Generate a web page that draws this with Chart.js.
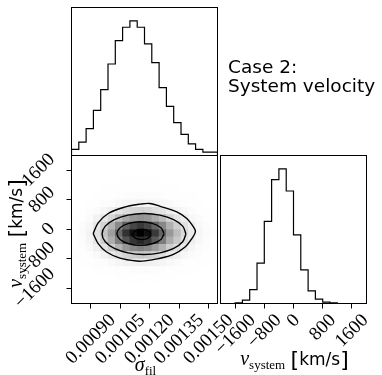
<!DOCTYPE html>
<html><head><meta charset="utf-8">
<script src="https://cdn.jsdelivr.net/npm/chart.js@4.4.1/dist/chart.umd.min.js"></script>
<style>
html,body{margin:0;padding:0;background:#fff;}
#wrap{position:relative;width:382px;height:375px;overflow:hidden;background:#fff}
#wrap canvas{position:absolute;left:0;top:0}
</style></head><body>
<div id="wrap">
<canvas id="topHist" width="382" height="375"></canvas>
<canvas id="joint" width="382" height="375"></canvas>
<canvas id="rightHist" width="382" height="375"></canvas>
</div>
<script>
// ---------- data ----------
const sigmaEdges = [0.0008013, 0.0008385, 0.0008758, 0.0009130, 0.0009502, 0.0009875, 0.0010247, 0.0010619, 0.0010991, 0.0011364, 0.0011736, 0.0012108, 0.0012481, 0.0012853, 0.0013225, 0.0013598, 0.0013970, 0.0014342, 0.0014714, 0.0015087, 0.0015459];
const sigmaCounts = [20, 54, 120, 240, 403, 588, 816, 1024, 1144, 1200, 1144, 996, 828, 606, 439, 293, 188, 104, 54, 30];
const vEdges = [-2009, -1808, -1608, -1407, -1207, -1006, -806, -605, -405, -204, -4, 196, 397, 597, 798, 998, 1199, 1399, 1600, 1800, 2001];
const vCounts = [0, 0, 0, 8, 40, 166, 480, 976, 1472, 1600, 1338, 816, 400, 150, 51, 16, 8, 0, 0, 0];

const sigmaTicks = [0.0009, 0.00105, 0.0012, 0.00135, 0.0015];
const sigmaTickLabels = ['0.00090', '0.00105', '0.00120', '0.00135', '0.00150'];
const vTicks = [-1600, -800, 0, 800, 1600];
const vTickLabels = ['\u22121600', '\u2212800', '0', '800', '1600'];

// 2D histogram, relative density (0-100); rows from top (highest v) to bottom
const densityGrid = [
  [0,0,0,0,0,0,0,0,0,0,0,0,0,0,0,0,0,0,0,0],
  [0,0,0,0,0,0,0,0,0,0,0,0,0,0,0,0,0,0,0,0],
  [0,0,0,0,0,0,0,0,0,0,0,0,0,0,0,0,0,0,0,0],
  [0,0,0,0,0,0,0,1,1,1,1,1,0,0,0,0,0,0,0,0],
  [0,0,0,0,1,1,1,1,1,2,1,1,1,1,1,0,0,0,0,0],
  [0,0,0,1,2,2,3,4,4,5,4,4,3,2,2,1,1,0,0,0],
  [0,0,1,2,4,5,7,9,10,11,10,9,8,6,4,3,2,1,0,0],
  [0,1,3,5,9,13,18,23,26,27,26,22,19,14,10,7,4,2,1,1],
  [1,2,5,11,18,26,36,45,51,53,51,44,37,27,19,13,8,5,2,1],
  [1,4,8,17,28,41,56,71,79,83,79,69,57,42,30,20,13,7,4,2],
  [2,5,10,20,34,49,68,85,95,100,95,83,69,51,37,24,16,9,5,3],
  [1,4,9,18,30,43,60,75,84,88,84,73,61,44,32,21,14,8,4,2],
  [1,3,6,12,20,29,41,51,57,60,57,50,41,30,22,15,9,5,3,2],
  [1,1,3,6,11,16,22,27,30,32,30,27,22,16,12,8,5,3,1,1],
  [0,1,1,3,4,6,9,11,12,13,12,11,9,7,5,3,2,1,1,0],
  [0,0,0,1,1,2,3,3,4,4,4,3,3,2,1,1,1,0,0,0],
  [0,0,0,0,0,0,1,1,1,1,1,1,1,1,0,0,0,0,0,0],
  [0,0,0,0,0,0,0,0,0,0,0,0,0,0,0,0,0,0,0,0],
  [0,0,0,0,0,0,0,0,0,0,0,0,0,0,0,0,0,0,0,0],
  [0,0,0,0,0,0,0,0,0,0,0,0,0,0,0,0,0,0,0,0]
];

// contour lines [sigma_fil, v_system]
const contour2s = [[0.0009118,-114],[0.0009373,174],[0.0009885,430],[0.0010652,593],[0.0011506,682],[0.0012017,702],[0.0012616,609],[0.0013383,473],[0.0013894,294],[0.0014232,65],[0.0014334,-65],[0.0014150,-250],[0.0013807,-479],[0.0013209,-677],[0.0012442,-794],[0.0011762,-854],[0.0011337,-859],[0.0010483,-778],[0.0009803,-614],[0.0009373,-386]];
const contour15s = [[0.0013848,-125],[0.0013684,87],[0.0013224,266],[0.0012529,386],[0.0011710,430],[0.0010892,386],[0.0010197,266],[0.0009736,87],[0.0009573,-125],[0.0009736,-337],[0.0010197,-517],[0.0010892,-636],[0.0011710,-680],[0.0012529,-636],[0.0013224,-517],[0.0013684,-337]];
const contour1s = [[0.0012733,-114],[0.0012572,45],[0.0012132,161],[0.0011531,204],[0.0010931,161],[0.0010491,45],[0.0010330,-114],[0.0010491,-273],[0.0010931,-390],[0.0011531,-432],[0.0012132,-390],[0.0012572,-273]];
const contour05s = [[0.0012053,-136],[0.0011992,-65],[0.0011823,-14],[0.0011593,5],[0.0011363,-14],[0.0011194,-65],[0.0011133,-136],[0.0011194,-207],[0.0011363,-258],[0.0011593,-277],[0.0011823,-258],[0.0011992,-207]];

const titleLines = ['Case 2:', 'System velocity'];
// ---------------------------------------------------

const SERIF = '"Liberation Serif", "DejaVu Serif", serif';
const SANS = '"DejaVu Sans", sans-serif';
const TICK_FONT = '19px ' + SERIF;

function stepPoints(edges, counts) {
  const pts = [{x: edges[0], y: 0}];
  counts.forEach((c, i) => pts.push({x: edges[i], y: c}));
  pts.push({x: edges[edges.length - 1], y: counts[counts.length - 1]});
  pts.push({x: edges[edges.length - 1], y: 0});
  return pts;
}
function closed(list) {
  const pts = list.map(p => ({x: p[0], y: p[1]}));
  pts.push({x: list[0][0], y: list[0][1]});
  return pts;
}
function drawRich(ctx, parts, cx, cy, rot) {
  ctx.save();
  ctx.translate(cx, cy);
  ctx.rotate(rot || 0);
  ctx.textAlign = 'left';
  ctx.textBaseline = 'alphabetic';
  ctx.fillStyle = '#000';
  const widths = parts.map(p => { ctx.font = p.f; return ctx.measureText(p.t).width; });
  const total = widths.reduce((a, b) => a + b, 0);
  let x = -total / 2;
  parts.forEach((p, i) => { ctx.font = p.f; ctx.fillText(p.t, x, p.dy || 0); x += widths[i]; });
  ctx.restore();
}
function drawXTickLabels(chart, scale, values, texts) {
  const c = chart.ctx, a = chart.chartArea;
  c.save();
  c.font = TICK_FONT; c.fillStyle = '#000'; c.textAlign = 'center'; c.textBaseline = 'middle';
  values.forEach((v, i) => {
    const w = c.measureText(texts[i]).width, h = 14;
    const d = (w + h) / Math.SQRT2;
    const cx = scale.getPixelForValue(v), cy = a.bottom + 9 + d / 2;
    c.save(); c.translate(cx, cy); c.rotate(-Math.PI / 4); c.fillText(texts[i], 0, 0); c.restore();
  });
  c.restore();
}
function drawYTickLabels(chart, scale, values, texts) {
  const c = chart.ctx, a = chart.chartArea;
  c.save();
  c.font = TICK_FONT; c.fillStyle = '#000'; c.textAlign = 'center'; c.textBaseline = 'middle';
  values.forEach((v, i) => {
    const w = c.measureText(texts[i]).width, h = 14;
    const d = (w + h) / Math.SQRT2;
    const cy = scale.getPixelForValue(v), cx = a.left - 14.5 - d / 2;
    c.save(); c.translate(cx, cy); c.rotate(-Math.PI / 4); c.fillText(texts[i], 0, 0); c.restore();
  });
  c.restore();
}
const framePlugin = {
  id: 'frame',
  afterDatasetsDraw(chart) {
    const a = chart.chartArea, c = chart.ctx;
    c.save(); c.strokeStyle = '#000'; c.lineWidth = 1;
    c.strokeRect(a.left, a.top, a.right - a.left, a.bottom - a.top);
    c.restore();
  }
};
const vLabelParts = [
  {t: 'v', f: 'italic 20px ' + SERIF, dy: 0},
  {t: 'system', f: '13px ' + SERIF, dy: 4},
  {t: ' ', f: '17px ' + SANS, dy: 0},
  {t: '[', f: '22px ' + SANS, dy: 2},
  {t: 'km/s', f: '17px ' + SANS, dy: 0},
  {t: ']', f: '22px ' + SANS, dy: 2}
];

const base = {
  responsive: false, animation: false, devicePixelRatio: 1, events: [],
  plugins: {legend: {display: false}, tooltip: {enabled: false}, title: {display: false}}
};
function tickAxis(min, max, ticks, pos) {
  return {
    type: 'linear', position: pos, min: min, max: max, bounds: 'data', offset: false,
    grid: {offset: false, display: true, drawOnChartArea: false, drawTicks: true, tickLength: 5, color: '#000', lineWidth: 1},
    border: {display: false},
    ticks: {display: false},
    afterBuildTicks: s => { s.ticks = ticks.map(v => ({value: v})); },
    afterFit: s => { if (pos === 'bottom') s.height = 5; else s.width = 5; }
  };
}

// ---- top histogram: sigma_fil ----
new Chart(document.getElementById('topHist'), {
  type: 'scatter',
  data: {datasets: [{
    data: stepPoints(sigmaEdges, sigmaCounts), showLine: true, stepped: 'after',
    borderColor: '#000', borderWidth: 1.2, pointRadius: 0, fill: false
  }]},
  options: Object.assign({}, base, {
    layout: {padding: {left: 71.5, right: 164.5, top: 7.5, bottom: 219.5}},
    scales: {
      x: {type: 'linear', display: false, min: sigmaEdges[0], max: sigmaEdges[sigmaEdges.length - 1]},
      y: {type: 'linear', display: false, min: 0, max: Math.max(...sigmaCounts) * 1.1}
    }
  }),
  plugins: [framePlugin, {
    id: 'title2',
    afterDraw(chart) {
      const c = chart.ctx;
      c.save(); c.font = '18.5px ' + SANS; c.fillStyle = '#000'; c.textAlign = 'left'; c.textBaseline = 'alphabetic';
      c.fillText(titleLines[0], 228, 72.5);
      c.fillText(titleLines[1], 228, 92);
      c.restore();
    }
  }]
});

// ---- joint 2D histogram with contours ----
const cellData = [], cellColors = [];
densityGrid.forEach((row, r) => {
  const j = densityGrid.length - 1 - r;
  row.forEach((val, i) => {
    if (val <= 0) return;
    cellData.push({x: (sigmaEdges[i] + sigmaEdges[i + 1]) / 2, y: [vEdges[j], vEdges[j + 1]]});
    const g = Math.round(255 * (1 - Math.pow(val / 100, 1.35)));
    cellColors.push('rgb(' + g + ',' + g + ',' + g + ')');
  });
});
const contourStyle = {type: 'scatter', showLine: true, borderColor: '#000', borderWidth: 1.4, pointRadius: 0, fill: false, tension: 0.35, order: 0};
new Chart(document.getElementById('joint'), {
  type: 'scatter',
  data: {datasets: [
    Object.assign({data: closed(contour2s)}, contourStyle),
    Object.assign({data: closed(contour15s)}, contourStyle),
    Object.assign({data: closed(contour1s)}, contourStyle),
    Object.assign({data: closed(contour05s)}, contourStyle),
    {type: 'bar', data: cellData, backgroundColor: cellColors, borderWidth: 0, barPercentage: 1, categoryPercentage: 1, grouped: false, order: 1}
  ]},
  options: Object.assign({}, base, {
    layout: {padding: {left: 66.5, right: 164.5, top: 155.5, bottom: 66.5}},
    scales: {
      x: tickAxis(sigmaEdges[0], sigmaEdges[sigmaEdges.length - 1], sigmaTicks, 'bottom'),
      y: tickAxis(vEdges[0], vEdges[vEdges.length - 1], vTicks, 'left')
    }
  }),
  plugins: [framePlugin, {
    id: 'jointLabels',
    afterDraw(chart) {
      const a = chart.chartArea;
      drawXTickLabels(chart, chart.scales.x, sigmaTicks, sigmaTickLabels);
      drawYTickLabels(chart, chart.scales.y, vTicks, vTickLabels);
      drawRich(chart.ctx, [
        {t: '\u03c3', f: 'italic 20px ' + SERIF, dy: 0},
        {t: 'fil', f: '13px ' + SERIF, dy: 4}
      ], (a.left + a.right) / 2 + 1, 371, 0);
      drawRich(chart.ctx, vLabelParts, 21.5, (a.top + a.bottom) / 2 + 4, -Math.PI / 2);
    }
  }]
});

// ---- right histogram: v_system ----
new Chart(document.getElementById('rightHist'), {
  type: 'scatter',
  data: {datasets: [{
    data: stepPoints(vEdges, vCounts), showLine: true, stepped: 'after',
    borderColor: '#000', borderWidth: 1.2, pointRadius: 0, fill: false
  }]},
  options: Object.assign({}, base, {
    layout: {padding: {left: 220.5, right: 15.5, top: 155.5, bottom: 66.5}},
    scales: {
      x: tickAxis(vEdges[0], vEdges[vEdges.length - 1], vTicks, 'bottom'),
      y: {type: 'linear', display: false, min: 0, max: Math.max(...vCounts) * 1.1}
    }
  }),
  plugins: [framePlugin, {
    id: 'rightLabels',
    afterDraw(chart) {
      const a = chart.chartArea;
      drawXTickLabels(chart, chart.scales.x, vTicks, vTickLabels);
      drawRich(chart.ctx, vLabelParts, (a.left + a.right) / 2 + 1, 365, 0);
    }
  }]
});
</script>
</body></html>
